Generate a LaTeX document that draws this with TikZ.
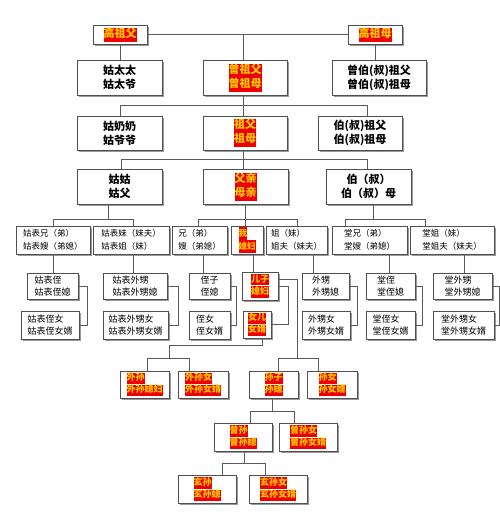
\documentclass[tikz,border=0pt]{standalone}
\usepackage{fontspec}
\setmainfont{Noto Sans CJK SC}
\usetikzlibrary{shadows}
\definecolor{hlred}{HTML}{EE0000}
\definecolor{hlyel}{HTML}{FFCC00}
\definecolor{boxline}{HTML}{505050}
\definecolor{conn}{HTML}{5A5A5A}
\newcommand{\hlt}[1]{{\setlength{\fboxsep}{0pt}\colorbox{hlred}{\strut\textcolor{hlyel}{#1}}}}
\newcommand{\bx}[7]{\node[#1, minimum width={(#5-#3)*1pt}, minimum height={(#6-#4)*1pt}] (#2) at ({(#3+#5)/2},{(#4+#6)/2}) {#7};}
\begin{document}
\begin{tikzpicture}[x=1pt,y=-1pt,
  box/.style={draw=boxline, line width=0.8pt, fill=white, inner sep=0pt, align=left,
    drop shadow={shadow xshift=1.8pt,shadow yshift=-1.8pt,fill=black!40,opacity=1}},
  big/.style={box, font=\fontsize{11}{14}\selectfont\bfseries},
  mid/.style={box, font=\fontsize{8.5}{13}\selectfont},
  sml/.style={box, font=\fontsize{9}{12.5}\selectfont},
  low/.style={box, font=\fontsize{9}{11}\selectfont\bfseries},
  ln/.style={draw=conn, line width=0.8pt}]
\useasboundingbox[fill=white] (0,0) rectangle (500,525);

% row 0
\bx{big}{gzf}{93}{25}{147}{44}{\hlt{高祖父}}
\bx{big}{gzm}{348}{25}{402}{44}{\hlt{高祖母}}
% row 1
\bx{big}{gtt}{77}{60}{162}{95}{姑太太\\姑太爷}
\bx{big}{zzf}{203}{60}{287}{95}{\hlt{曾祖父}\\\hlt{曾祖母}}
\bx{big}{zbz}{332}{60}{426}{95}{曾伯(叔)祖父\\曾伯(叔)祖母}
% row 2
\bx{big}{gnn}{77}{116}{162}{150}{姑奶奶\\姑爷爷}
\bx{big}{zf}{203}{116}{287}{150}{\hlt{祖父}\\\hlt{祖母}}
\bx{big}{bz}{318}{116}{402}{150}{伯(叔)祖父\\伯(叔)祖母}
% row 3
\bx{big}{gg}{77}{169}{162}{204}{姑姑\\姑父}
\bx{big}{fq}{203}{169}{288}{204}{\hlt{父亲}\\\hlt{母亲}}
\bx{big,align=center}{bs}{326}{169}{411}{204}{伯（叔）\\伯（叔）母}
% row 4
\bx{mid}{gbx}{16}{226}{90}{254}{姑表兄（弟）\\姑表嫂（弟媳）}
\bx{mid}{gbm}{93}{226}{169}{254}{姑表妹（妹夫）\\姑表姐（妹）}
\bx{mid}{xd}{172}{226}{227}{254}{兄（弟）\\嫂（弟媳）}
\bx{mid,font=\fontsize{8.5}{13}\selectfont\bfseries}{wo}{231}{226}{263}{254}{\hlt{我}\\\hlt{媳妇}}
\bx{mid}{jm}{266}{226}{327}{254}{姐（妹）\\姐夫（妹夫）}
\bx{mid}{tx}{332}{226}{407}{254}{堂兄（弟）\\堂嫂（弟媳）}
\bx{mid}{tj}{410}{226}{494}{254}{堂姐（妹）\\堂姐夫（妹夫）}
% row 5
\bx{sml}{gbz}{27}{273}{78}{299}{姑表侄\\姑表侄媳}
\bx{sml}{gbws}{103}{273}{167}{299}{姑表外甥\\姑表外甥媳}
\bx{sml}{zz}{189}{273}{230}{299}{侄子\\侄媳}
\bx{low}{ez}{242}{272}{278}{300}{\hlt{儿子}\\\hlt{媳妇}}
\bx{sml}{ws}{302}{273}{349}{299}{外甥\\外甥媳}
\bx{sml}{tz}{366}{273}{415}{299}{堂侄\\堂侄媳}
\bx{sml}{tws}{433}{273}{492}{299}{堂外甥\\堂外甥媳}
% row 6
\bx{sml}{gbzn}{21}{311}{79}{339}{姑表侄女\\姑表侄女婿}
\bx{sml}{gbwsn}{103}{311}{168}{339}{姑表外甥女\\姑表外甥女婿}
\bx{sml}{zn}{189}{311}{230}{339}{侄女\\侄女婿}
\bx{low}{ne}{243}{311}{271}{338}{\hlt{女儿}\\\hlt{女婿}}
\bx{sml}{wsn}{302}{311}{350}{339}{外甥女\\外甥女婿}
\bx{sml}{tzn}{366}{311}{415}{339}{堂侄女\\堂侄女婿}
\bx{sml}{twsn}{433}{311}{494}{339}{堂外甥女\\堂外甥女婿}
% row 7
\bx{low}{wsun}{120}{371}{169}{398}{\hlt{外孙}\\\hlt{外孙媳妇}}
\bx{low}{wsunn}{178}{371}{228}{398}{\hlt{外孙女}\\\hlt{外孙女婿}}
\bx{low}{sz}{249}{371}{298}{398}{\hlt{孙子}\\\hlt{孙媳}}
\bx{low}{sn}{307}{371}{357}{398}{\hlt{孙女}\\\hlt{孙女婿}}
% row 8
\bx{low}{zs}{214}{423}{272}{451}{\hlt{曾孙}\\\hlt{曾孙媳}}
\bx{low}{zsn}{279}{423}{337}{451}{\hlt{曾孙女}\\\hlt{曾孙女婿}}
% row 9
\bx{low}{xs}{178}{475}{236}{503}{\hlt{玄孙}\\\hlt{玄孙媳}}
\bx{low}{xsn}{249}{475}{307}{503}{\hlt{玄孙女}\\\hlt{玄孙女婿}}

% junction coordinates
\coordinate (a1) at (243,34.5);
\coordinate (b1) at (243,105);  \coordinate (b1l) at (120,105); \coordinate (b1r) at (367,105);
\coordinate (b2) at (243,159);  \coordinate (b2l) at (121,159); \coordinate (b2r) at (367,159);
\coordinate (c1) at (108,219);  \coordinate (c1l) at (53,219);  \coordinate (c1r) at (133,219);
\coordinate (c2) at (245.5,219);\coordinate (c2l) at (198,219); \coordinate (c2r) at (297,219);
\coordinate (c3) at (373,219);  \coordinate (c3l) at (345,219); \coordinate (c3r) at (425,219);
\coordinate (d1) at (169,358);  \coordinate (d1l) at (147,358); \coordinate (d1r) at (189,358);
\coordinate (d2) at (297,358);  \coordinate (d2l) at (278,358); \coordinate (d2r) at (318,358);
\coordinate (e1) at (272,411);  \coordinate (e1l) at (250,411); \coordinate (e1r) at (294,411);
\coordinate (f1) at (244,463);  \coordinate (f1l) at (222,463); \coordinate (f1r) at (265,463);

\begin{scope}[ln]
% top
\draw (gzf.east) -- (gzm.west);
\draw (a1) -- (a1 |- zzf.north);
\draw (gzf.south) -- (gzf.south |- gtt.north);
\draw (gzm.south) -- (gzm.south |- zbz.north);
% row1 -> row2
\draw (b1 |- zzf.south) -- (b1);
\draw (b1l) -- (b1r);
\draw (b1l) -- (b1l |- gnn.north);
\draw (b1) -- (b1 |- zf.north);
\draw (b1r) -- (b1r |- bz.north);
% row2 -> row3
\draw (b2 |- zf.south) -- (b2);
\draw (b2l) -- (b2r);
\draw (b2l) -- (b2l |- gg.north);
\draw (b2) -- (b2 |- fq.north);
\draw (b2r) -- (b2r |- bs.north);
% row3 -> row4
\draw (c1 |- gg.south) -- (c1);
\draw (c1l) -- (c1r);
\draw (c1l) -- (c1l |- gbx.north);
\draw (c1r) -- (c1r |- gbm.north);
\draw (fq.south) -- (c2 |- wo.north);
\draw (c2l) -- (c2r);
\draw (c2l) -- (c2l |- xd.north);
\draw (c2r) -- (c2r |- jm.north);
\draw (c3 |- bs.south) -- (c3);
\draw (c3l) -- (c3r);
\draw (c3l) -- (c3l |- tx.north);
\draw (c3r) -- (c3r |- tj.north);
% row4 -> row5
\draw (gbx.south) -- (gbx.south |- gbz.north);
\draw ([xshift=2pt]gbm.south) -- ([xshift=2pt]gbm.south |- gbws.north);
\draw ([xshift=3.5pt]xd.south) -- ([xshift=3.5pt]xd.south |- zz.north);
\draw ([xshift=6pt]wo.south) -- ([xshift=6pt]wo.south |- ez.north);
\draw ([xshift=16.5pt]jm.south) -- ([xshift=16.5pt]jm.south |- ws.north);
\draw ([xshift=19.5pt]tx.south) -- ([xshift=19.5pt]tx.south |- tz.north);
\draw ([xshift=12pt]tj.south) -- ([xshift=12pt]tj.south |- tws.north);
% brackets row5 -> row6
\draw (gbz.east) -- ++(9,0) |- (gbzn.east);
\draw (gbws.east) -- ++(11,0) |- (gbwsn.east);
\draw (zz.east) -- ++(6,0) |- (zn.east);
\draw (ez.east) -- ++(10,0) |- (ne.east);
\draw (ws.east) -- ++(8,0) |- (wsn.east);
\draw (tz.east) -- ++(7,0) |- (tzn.east);
\draw (tws.east) -- ++(7,0) |- (twsn.east);
% grandchildren
\draw ([xshift=5pt]ne.south) -- ++(0,7) -| (d1);
\draw (d1l) -- (d1r);
\draw (d1l) -- (d1l |- wsun.north);
\draw (d1r) -- (d1r |- wsunn.north);
\draw ([yshift=7pt]ez.east) -| (d2);
\draw (d2l) -- (d2r);
\draw (d2l) -- (d2l |- sz.north);
\draw (d2r) -- (d2r |- sn.north);
\draw (e1 |- sz.south) -- (e1);
\draw (e1l) -- (e1r);
\draw (e1l) -- (e1l |- zs.north);
\draw (e1r) -- (e1r |- zsn.north);
\draw (f1 |- zs.south) -- (f1);
\draw (f1l) -- (f1r);
\draw (f1l) -- (f1l |- xs.north);
\draw (f1r) -- (f1r |- xsn.north);
\end{scope}
\end{tikzpicture}
\end{document}
